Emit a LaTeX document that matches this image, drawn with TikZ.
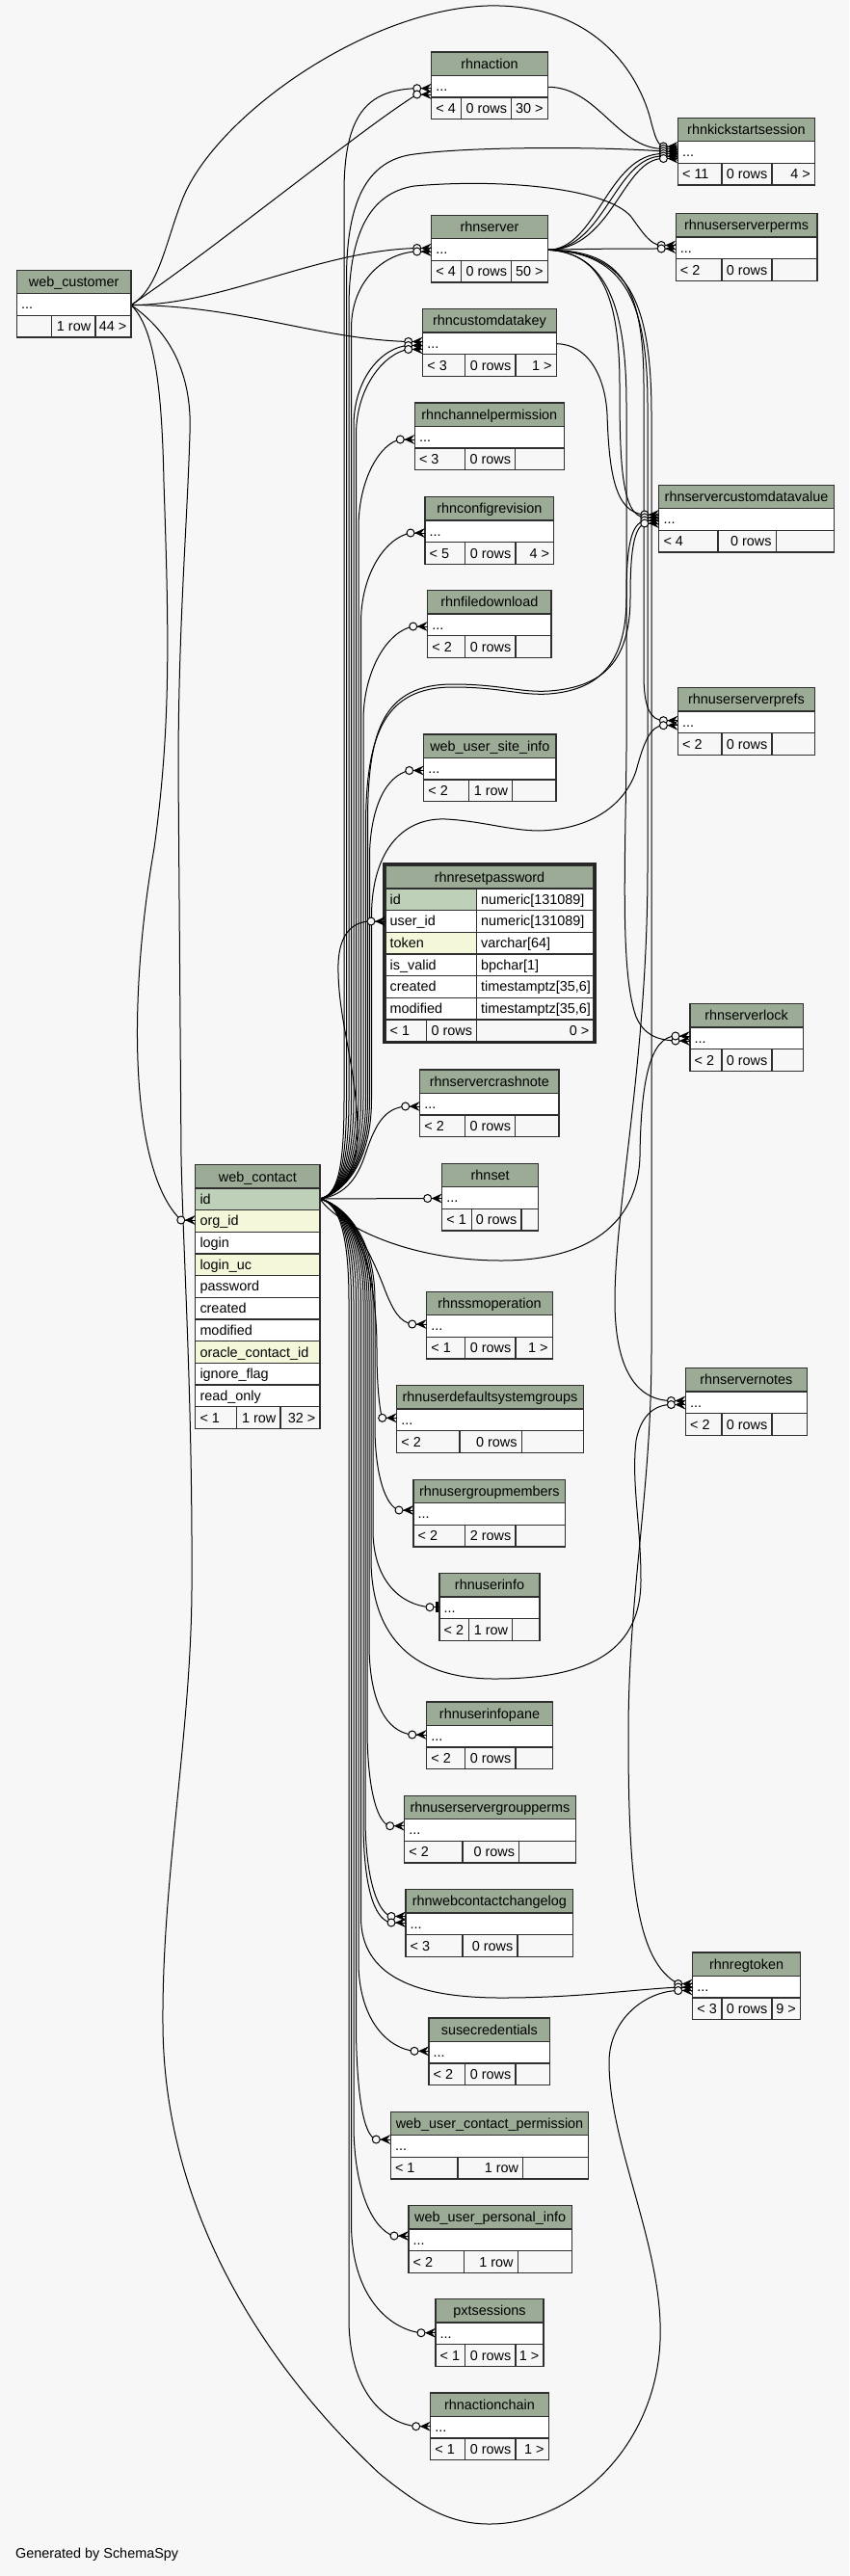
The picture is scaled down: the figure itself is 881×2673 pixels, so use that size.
\documentclass[tikz,border=0pt]{standalone}
\usepackage{fontspec}
\setmainfont{Liberation Sans}
\pgfdeclarelayer{bglayer}
\pgfdeclarelayer{edges}
\pgfsetlayers{bglayer,edges,main}
\definecolor{bgc}{HTML}{F7F7F7}
\definecolor{hdrc}{HTML}{9BAB96}
\definecolor{pkc}{HTML}{BED1B8}
\definecolor{idxc}{HTML}{F4F7DA}
\definecolor{bordc}{HTML}{2F2F2F}
\newcommand\fs{\fontsize{14.4}{17}\selectfont}
\tikzset{
 tb/.style={draw=bordc,line width=1.2pt},
 txt/.style={font=\fs,inner sep=0pt,text=black},
 fk/.style={draw=black,line width=1pt},
}
\newcommand\FootTxt[8]{%
 \node[txt,anchor=base west] (#1-fl) at (#2+4.5,#5+63.3) {#6};
 \node[txt,anchor=base east] (#1-fm) at (#3-4.5,#5+63.3) {#7};
 \node[txt,anchor=base east] (#1-fr) at (#4-4.5,#5+63.3) {#8};
}
\newcommand\Tbl[8]{%
 \fill[hdrc] (#2,#4) rectangle (#3,#4+24.3);
 \fill[white] (#2,#4+24.3) rectangle (#3,#4+47);
 \fill[bgc] (#2,#4+47) rectangle (#3,#4+69.7);
 \draw[tb] (#2,#4) rectangle (#3,#4+69.7);
 \draw[tb] (#2,#4+24.3) -- (#3,#4+24.3) (#2,#4+47) -- (#3,#4+47) (#6,#4+47) -- (#6,#4+69.7) (#7,#4+47) -- (#7,#4+69.7);
 \node[txt,anchor=base] (#1-t) at ({(#2+#3)/2},#4+17.2) {#5};
 \node[txt,anchor=base west] (#1-r) at (#2+4.5,#4+40.4) {...};
 \FootTxt{#1}{#2}{#7}{#3}{#4}#8
}
\newcommand\Mk[3]{%
 \coordinate (#1) at (#2-15,#3);
 \fill[black] (#2-11,#3) -- (#2,#3-5) -- (#2-4,#3) -- (#2,#3+5) -- cycle;
 \draw[line width=0.9pt] (#2-11,#3) -- (#2,#3);
 \draw[fk,fill=bgc] (#1) circle[radius=4];
}
\newcommand\MkT[3]{%
 \coordinate (#1) at (#2-10,#3);
 \draw[line width=1pt] (#2-6,#3) -- (#2,#3);
 \fill[black] (#2-4,#3-5.5) rectangle (#2-1.5,#3+5.5);
 \draw[fk,fill=bgc] (#1) circle[radius=4];
}
\newcommand\RPRow[4]{%
 \fill[#4] (400,922+22.67*#1) rectangle (494.7,944.67+22.67*#1);
 \fill[white] (494.7,922+22.67*#1) rectangle (616,944.67+22.67*#1);
 \draw[tb] (400,922+22.67*#1) rectangle (494.7,944.67+22.67*#1);
 \draw[tb] (494.7,922+22.67*#1) rectangle (616,944.67+22.67*#1);
 \node[txt,anchor=base west] (rp-n#1) at (404.5,938.3+22.67*#1) {#2};
 \node[txt,anchor=base west] (rp-y#1) at (499,938.3+22.67*#1) {#3};
}
% upward edge from web_contact along lane #1 to height #2
\newcommand\Up[2]{(wct-o) .. controls (350,1240) and (#1,1215) .. (#1,1140) -- (#1,#2)}
\newcommand\Dn[2]{(wct-o) .. controls (350,1248) and (#1,1275) .. (#1,1350) -- (#1,#2)}
\begin{document}
\begin{tikzpicture}[x=1pt,y=-1pt]
\begin{pgfonlayer}{bglayer}
\fill[bgc] (0,0) rectangle (881,2673);
\end{pgfonlayer}
\useasboundingbox (0,0) rectangle (881,2673);

% ---------- tables ----------
\Tbl{webcust}{17.4}{136}{280.3}{web\_customer}{53.4}{98.9}{{}{1 row}{44 >}}
\Tbl{rhnaction}{447.7}{568.3}{54}{rhnaction}{478.7}{530.7}{{< 4}{0 rows}{30 >}}
\Tbl{rhnserver}{447.7}{568.3}{223.3}{rhnserver}{478.7}{530.7}{{< 4}{0 rows}{50 >}}
\Tbl{rcdk}{438.7}{577.3}{320.7}{rhncustomdatakey}{482.7}{535}{{< 3}{0 rows}{1 >}}
\Tbl{chanperm}{430.3}{585.3}{418}{rhnchannelpermission}{482.7}{534.7}{{< 3}{0 rows}{}}
\Tbl{confrev}{441}{574.7}{515.7}{rhnconfigrevision}{482.7}{535}{{< 5}{0 rows}{4 >}}
\Tbl{filedl}{443.7}{572}{612.7}{rhnfiledownload}{482.7}{535}{{< 2}{0 rows}{}}
\Tbl{wusi}{439.7}{577}{762}{web\_user\_site\_info}{486.7}{531.7}{{< 2}{1 row}{}}
\Tbl{crash}{435.7}{580}{1110}{rhnservercrashnote}{482.7}{534.7}{{< 2}{0 rows}{}}
\Tbl{rhnset}{458.7}{558.7}{1207.3}{rhnset}{489.3}{541}{{< 1}{0 rows}{}}
\Tbl{ssm}{442.7}{573.3}{1340.3}{rhnssmoperation}{482.7}{535}{{< 1}{0 rows}{1 >}}
\Tbl{udsg}{411.7}{605.3}{1437.7}{rhnuserdefaultsystemgroups}{477}{541.3}{{< 2}{0 rows}{}}
\Tbl{ugm}{429}{586.7}{1535.3}{rhnusergroupmembers}{482.7}{535}{{< 2}{2 rows}{}}
\Tbl{uinfo}{456}{560}{1632.7}{rhnuserinfo}{486.7}{531.7}{{< 2}{1 row}{}}
\Tbl{uip}{442.7}{573.3}{1766}{rhnuserinfopane}{482.7}{535}{{< 2}{0 rows}{}}
\Tbl{usgp}{419.7}{597.3}{1863.3}{rhnuserservergroupperms}{480}{538.7}{{< 2}{0 rows}{}}
\Tbl{wccl}{421}{594.7}{1960.7}{rhnwebcontactchangelog}{480}{537}{{< 3}{0 rows}{}}
\Tbl{susecred}{445}{570.7}{2094}{susecredentials}{482.7}{535}{{< 2}{0 rows}{}}
\Tbl{wucp}{405.3}{610.7}{2191.3}{web\_user\_contact\_permission}{475}{542.7}{{< 1}{1 row}{}}
\Tbl{wupi}{424}{593.3}{2288.7}{web\_user\_personal\_info}{481.3}{537.3}{{< 2}{1 row}{}}
\Tbl{pxt}{452}{564}{2385.7}{pxtsessions}{482.7}{535}{{< 1}{0 rows}{1 >}}
\Tbl{rac}{446.7}{569.3}{2483}{rhnactionchain}{482.7}{535}{{< 1}{0 rows}{1 >}}
\Tbl{kick}{703.4}{845.5}{122.3}{rhnkickstartsession}{749}{801}{{< 11}{0 rows}{4 >}}
\Tbl{usp}{701.2}{847.9}{221.7}{rhnuserserverperms}{749}{801}{{< 2}{0 rows}{}}
\Tbl{scdv}{683.8}{865.3}{503.3}{rhnservercustomdatavalue}{745}{805.2}{{< 4}{0 rows}{}}
\Tbl{uspr}{703.4}{845.6}{713.7}{rhnuserserverprefs}{749}{801}{{< 2}{0 rows}{}}
\Tbl{lock}{715.9}{833.3}{1041.7}{rhnserverlock}{749}{801}{{< 2}{0 rows}{}}
\Tbl{notes}{711.4}{837.2}{1419.7}{rhnservernotes}{749}{801}{{< 2}{0 rows}{}}
\Tbl{regtoken}{718.7}{830.5}{2026}{rhnregtoken}{749}{801}{{< 3}{0 rows}{9 >}}

% web_contact
\fill[hdrc] (202.8,1208.7) rectangle (332,1233);
\draw[tb] (202.8,1208.7) rectangle (332,1233);
\node[txt,anchor=base] (wct-t) at (267.4,1226) {web\_contact};
\foreach \nm/\cl [count=\i from 0] in {id/pkc,org\_id/idxc,login/white,login\_uc/idxc,password/white,created/white,modified/white,oracle\_contact\_id/idxc,ignore\_flag/white,read\_only/white}{
 \fill[\cl] (202.8,1233+22.67*\i) rectangle (332,1255.67+22.67*\i);
 \draw[tb] (202.8,1233+22.67*\i) rectangle (332,1255.67+22.67*\i);
 \node[txt,anchor=base west] (wct-r\i) at (207.3,1249.3+22.67*\i) {\nm};
}
\fill[bgc] (202.8,1459.7) rectangle (332,1482.4);
\draw[tb] (202.8,1459.7) rectangle (332,1482.4) (245.5,1459.7) -- (245.5,1482.4) (291,1459.7) -- (291,1482.4);
\node[txt,anchor=base west] (wct-fl) at (207.3,1476.1) {< 1};
\node[txt,anchor=base east] (wct-fm) at (286.5,1476.1) {1 row};
\node[txt,anchor=base east] (wct-fr) at (327.5,1476.1) {32 >};

% rhnresetpassword
\fill[hdrc] (400,898.3) rectangle (616,922);
\draw[tb] (400,898.3) rectangle (616,922);
\node[txt,anchor=base] (rp-t) at (508,915.2) {rhnresetpassword};
\RPRow{0}{id}{numeric[131089]}{pkc}
\RPRow{1}{user\_id}{numeric[131089]}{white}
\RPRow{2}{token}{varchar[64]}{idxc}
\RPRow{3}{is\_valid}{bpchar[1]}{white}
\RPRow{4}{created}{timestamptz[35,6]}{white}
\RPRow{5}{modified}{timestamptz[35,6]}{white}
\fill[bgc] (400,1058) rectangle (616,1080.7);
\draw[tb] (400,1058) rectangle (616,1080.7) (442.7,1058) -- (442.7,1080.7) (494.7,1058) -- (494.7,1080.7);
\node[txt,anchor=base west] (rp-fl) at (404.5,1074.4) {< 1};
\node[txt,anchor=base east] (rp-fm) at (490.2,1074.4) {0 rows};
\node[txt,anchor=base east] (rp-fr) at (611.5,1074.4) {0 >};
\draw[line width=3pt,draw=black!85] (398.5,896.2) rectangle (617.2,1081.8);

% ---------- parent ports ----------
\coordinate (wc-o) at (136,316.5);
\coordinate (wct-o) at (332,1244);
\coordinate (rs-o) at (568.3,259.3);
\coordinate (ra-o) at (568.3,90.3);
\coordinate (rcdk-o) at (577.3,356.7);

% ---------- child markers ----------
\Mk{m-ra1}{447.7}{91.7}
\Mk{m-ra2}{447.7}{98}
\Mk{m-k1}{703.4}{152}
\Mk{m-k2}{703.4}{154.5}
\Mk{m-k3}{703.4}{157}
\Mk{m-k4}{703.4}{159.5}
\Mk{m-k5}{703.4}{162}
\Mk{m-k6}{703.4}{164.5}
\Mk{m-p1}{701.2}{254.5}
\Mk{m-p2}{701.2}{258}
\Mk{m-s1}{447.7}{257.5}
\Mk{m-s2}{447.7}{261}
\Mk{m-c1}{438.7}{354.5}
\Mk{m-c2}{438.7}{358.5}
\Mk{m-c3}{438.7}{362.5}
\Mk{m-cp}{430.3}{456}
\Mk{m-cr}{441}{553}
\Mk{m-fd}{443.7}{650}
\Mk{m-wusi}{439.7}{799.5}
\Mk{m-v1}{683.8}{534}
\Mk{m-v2}{683.8}{537}
\Mk{m-v3}{683.8}{540}
\Mk{m-v4}{683.8}{543}
\Mk{m-f1}{703.4}{747.7}
\Mk{m-f2}{703.4}{752.7}
\Mk{m-rp}{400}{956}
\Mk{m-cn}{435.7}{1148}
\Mk{m-st}{458.7}{1243.5}
\Mk{m-l1}{715.9}{1080}
\Mk{m-l2}{715.9}{1075}
\Mk{m-ssm}{442.7}{1374}
\Mk{m-n1}{711.4}{1453.5}
\Mk{m-n2}{711.4}{1457.5}
\Mk{m-udsg}{411.7}{1471.3}
\Mk{m-ugm}{429}{1567}
\MkT{m-ui}{456}{1667.7}
\Mk{m-uip}{442.7}{1800}
\Mk{m-usgp}{419.7}{1894.7}
\Mk{m-w1}{421}{1988.5}
\Mk{m-w2}{421}{1995}
\Mk{m-g1}{718.7}{2058.5}
\Mk{m-g2}{718.7}{2062}
\Mk{m-g3}{718.7}{2065.5}
\Mk{m-sc}{445}{2128.3}
\Mk{m-wucp}{405.3}{2220}
\Mk{m-wupi}{424}{2320}
\Mk{m-pxt}{452}{2420.7}
\Mk{m-ac}{446.7}{2517.7}
\Mk{m-oi}{202.8}{1266}

\node[txt,anchor=base west] (gen) at (16,2654) {Generated by SchemaSpy};

% ---------- connectors ----------
\begin{pgfonlayer}{edges}
% web_customer
\draw[fk] (wc-o) .. controls (165,300) and (172,250) .. (190,205) .. controls (225,120) and (380,10) .. (506,6) .. controls (620,3) and (665,80) .. (676,128) .. controls (680,142) and (682,150) .. (m-k1);
\draw[fk] (wc-o) .. controls (220,260) and (380,130) .. (m-ra2);
\draw[fk] (wc-o) .. controls (230,317) and (330,260) .. (m-s1);
\draw[fk] (wc-o) .. controls (250,317) and (330,352) .. (m-c1);
\draw[fk] (wc-o) .. controls (160,340) and (168,400) .. (170,500) .. controls (175,650) and (178,750) .. (160,880) .. controls (132,1040) and (135,1215) .. (m-oi);
\draw[fk] (wc-o) .. controls (170,340) and (200,380) .. (197,450) .. controls (194,550) and (185,650) .. (185,800) -- (188,1200) .. controls (190,1300) and (200,1450) .. (199,1650) .. controls (198,1800) and (168,1950) .. (169,2100) .. controls (170,2300) and (280,2460) .. (393,2566) .. controls (440,2605) and (470,2619) .. (508,2619) .. controls (600,2619) and (690,2530) .. (685,2410) .. controls (682,2320) and (632,2220) .. (632,2140) .. controls (632,2095) and (670,2066) .. (m-g3);
% rhnaction
\draw[fk] (ra-o) .. controls (620,90) and (640,154) .. (m-k2);
% rhncustomdatakey
\draw[fk] (rcdk-o) .. controls (610,357) and (628,390) .. (630,430) .. controls (632,490) and (638,532) .. (m-v1);
% rhnserver
\draw[fk] (rs-o) .. controls (620,259) and (630,159) .. (m-k4);
\draw[fk] (rs-o) .. controls (628,259) and (638,161) .. (m-k5);
\draw[fk] (rs-o) .. controls (636,259) and (646,164) .. (m-k6);
\draw[fk] (rs-o) .. controls (620,258) and (650,258) .. (m-p2);
\draw[fk] (rs-o) .. controls (620,262) and (643,300) .. (643,400) .. controls (643,480) and (645,535) .. (m-v2);
\draw[fk] (rs-o) .. controls (640,260) and (668,290) .. (668,400) -- (668,700) .. controls (668,735) and (675,747) .. (m-f1);
\draw[fk] (rs-o) .. controls (630,262) and (650,320) .. (650,420) -- (650,700) .. controls (652,850) and (640,1000) .. (660,1055) .. controls (668,1073) and (680,1079) .. (m-l1);
\draw[fk] (rs-o) .. controls (640,262) and (672,300) .. (672,420) -- (672,900) .. controls (672,1100) and (638,1250) .. (638,1350) .. controls (638,1420) and (660,1453) .. (m-n1);
\draw[fk] (rs-o) .. controls (645,262) and (676,300) .. (676,430) -- (676,1400) .. controls (676,1550) and (652,1650) .. (652,1800) .. controls (652,1950) and (660,2035) .. (m-g1);
% web_contact upward
\draw[fk] \Up{357}{200} .. controls (357,120) and (380,93) .. (m-ra1);
\draw[fk] \Up{359.5}{290} .. controls (359.5,210) and (380,166) .. (430,160) .. controls (490,152) and (620,152) .. (m-k3);
\draw[fk] \Up{362}{320} .. controls (362,240) and (385,200) .. (430,193) .. controls (520,185) and (630,195) .. (655,225) .. controls (668,243) and (675,254) .. (m-p1);
\draw[fk] \Up{364.5}{340} .. controls (365,290) and (400,262) .. (m-s2);
\draw[fk] \Up{367}{440} .. controls (368,390) and (398,360) .. (m-c2);
\draw[fk] \Up{369.5}{450} .. controls (370,400) and (400,366) .. (m-c3);
\draw[fk] \Up{372}{545} .. controls (373,495) and (395,460) .. (m-cp);
\draw[fk] \Up{374.5}{645} .. controls (375,595) and (400,558) .. (m-cr);
\draw[fk] \Up{377}{745} .. controls (378,695) and (402,655) .. (m-fd);
\draw[fk] \Up{381.5}{850} .. controls (382,757) and (398,710) .. (470,710) .. controls (520,710) and (540,719) .. (570,717) .. controls (624,713) and (654,688) .. (654,620) .. controls (654,570) and (658,548) .. (m-v4);
\draw[fk] \Up{379.5}{855} .. controls (380,760) and (400,713) .. (470,713) .. controls (520,713) and (540,722) .. (570,720) .. controls (620,716) and (650,690) .. (650,620) .. controls (650,565) and (655,544) .. (m-v3);
\draw[fk] \Up{383.5}{885} .. controls (385,838) and (400,805) .. (m-wusi);
\draw[fk] \Up{385.5}{950} .. controls (386,880) and (420,848) .. (463,850) .. controls (500,852) and (530,862) .. (560,862) .. controls (620,860) and (650,830) .. (660,800) .. controls (668,770) and (675,753) .. (m-f2);
\draw[fk] (wct-o) .. controls (360,1235) and (375,1210) .. (370,1150) .. controls (365,1090) and (350,1050) .. (351,1000) .. controls (352,970) and (365,956) .. (m-rp);
\draw[fk] (wct-o) .. controls (360,1240) and (372,1220) .. (380,1195) .. controls (390,1165) and (400,1150) .. (m-cn);
\draw[fk] (wct-o) -- (m-st);
\draw[fk] (wct-o) .. controls (350,1270) and (420,1308) .. (520,1308) .. controls (610,1308) and (662,1270) .. (664,1200) .. controls (665,1120) and (675,1076) .. (m-l2);
% web_contact downward
\draw[fk] (wct-o) .. controls (360,1250) and (385,1300) .. (400,1340) .. controls (408,1360) and (415,1372) .. (m-ssm);
\draw[fk] (wct-o) .. controls (360,1250) and (391,1300) .. (391,1400) .. controls (391,1445) and (395,1468) .. (m-udsg);
\draw[fk] \Dn{389}{1480} .. controls (389,1530) and (400,1563) .. (m-ugm);
\draw[fk] \Dn{387}{1590} .. controls (388,1640) and (415,1665) .. (m-ui);
\draw[fk] \Dn{385}{1620} .. controls (386,1700) and (430,1742) .. (513,1742) .. controls (600,1742) and (665,1720) .. (665,1640) .. controls (665,1580) and (655,1540) .. (660,1495) .. controls (665,1468) and (680,1457.5) .. (m-n2);
\draw[fk] \Dn{383}{1710} .. controls (384,1765) and (400,1797) .. (m-uip);
\draw[fk] \Dn{381}{1800} .. controls (382,1860) and (392,1892) .. (m-usgp);
\draw[fk] \Dn{379}{1890} .. controls (380,1960) and (395,1986) .. (m-w1);
\draw[fk] \Dn{377}{1895} .. controls (378,1970) and (392,1993) .. (m-w2);
\draw[fk] \Dn{374.5}{1990} .. controls (375,2050) and (430,2073) .. (520,2073) .. controls (600,2073) and (650,2065) .. (m-g2);
\draw[fk] \Dn{372}{2040} .. controls (374,2100) and (405,2126) .. (m-sc);
\draw[fk] \Dn{369.5}{2110} .. controls (371,2190) and (380,2217) .. (m-wucp);
\draw[fk] \Dn{367}{2210} .. controls (369,2290) and (395,2317) .. (m-wupi);
\draw[fk] \Dn{364.5}{2310} .. controls (366,2390) and (410,2418) .. (m-pxt);
\draw[fk] \Dn{362}{2410} .. controls (364,2490) and (405,2515) .. (m-ac);
\end{pgfonlayer}
\end{tikzpicture}
\end{document}
